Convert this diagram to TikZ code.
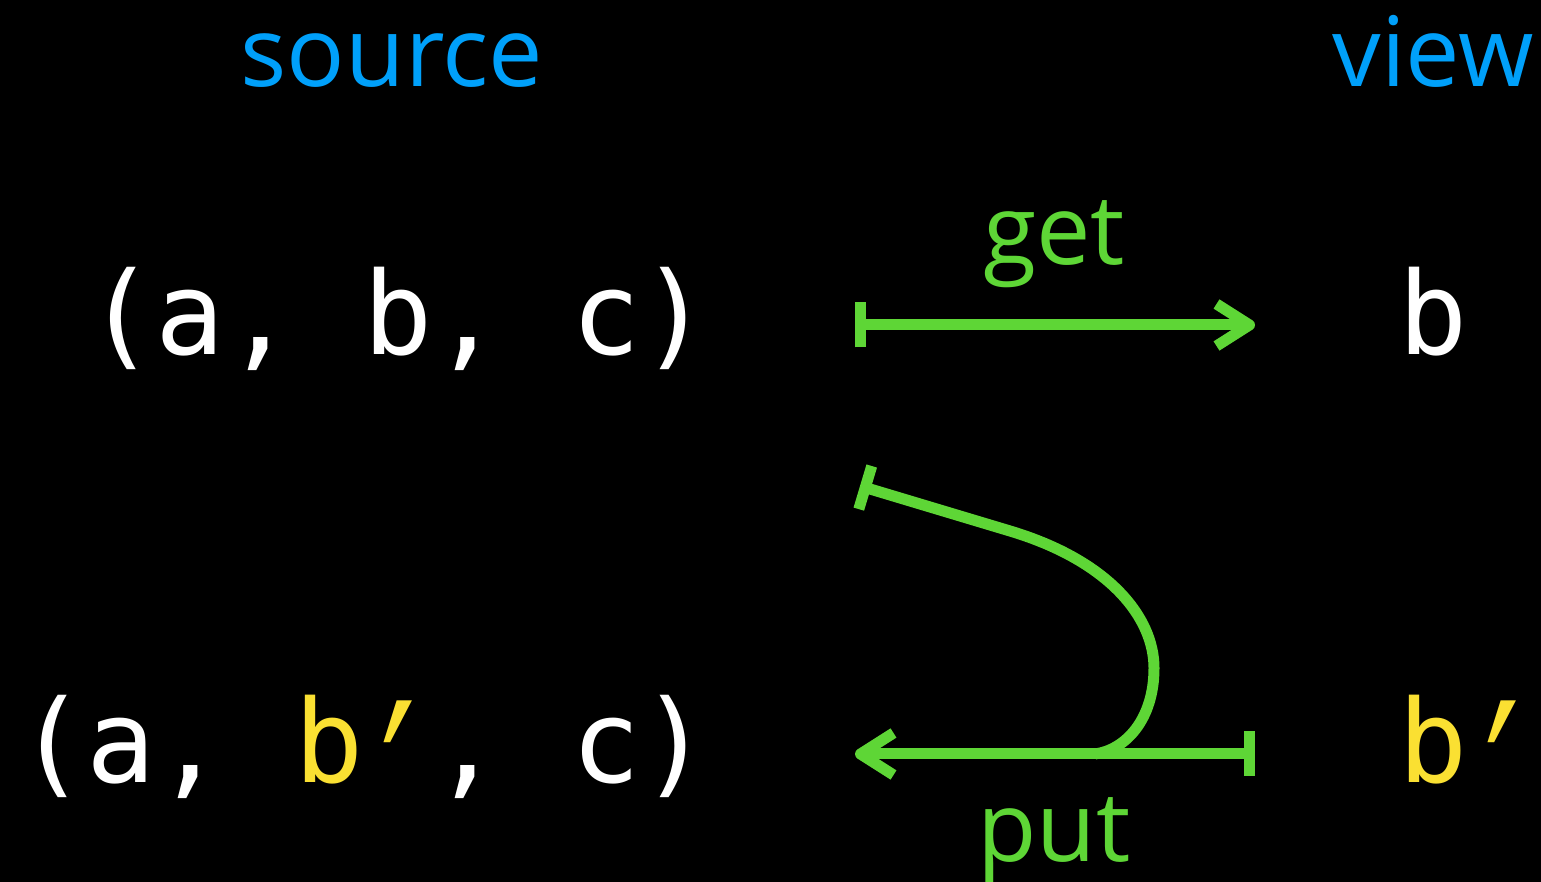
\documentclass[tikz,border=0pt]{standalone}
\usepackage{fontspec}
\usetikzlibrary{arrows.meta}
\newfontfamily\labelfont{Open Sans}
\newfontfamily\codefont{DejaVu Sans Mono}
\definecolor{lensblue}{RGB}{0,160,250}
\definecolor{lensgreen}{RGB}{94,214,54}
\definecolor{lensyellow}{RGB}{250,224,50}
% a tall prime that still fills exactly one monospace cell
\newcommand{\cellprime}{\makebox[\fontcharwd\font`a][c]{\smash{\raisebox{-0.74em}{\scalebox{1.35}[2]{′}}}}}

\begin{document}
\begin{tikzpicture}[x=1pt,y=1pt,
  heading/.style={text=lensblue, font=\labelfont\fontsize{97}{110}\selectfont, inner sep=0pt, anchor=base},
  term/.style={text=white, font=\codefont\fontsize{115}{130}\selectfont, inner sep=0pt},
  oplabel/.style={text=lensgreen, font=\labelfont\fontsize{97}{110}\selectfont, inner sep=0pt, anchor=base},
  lensline/.style={draw=lensgreen, line width=11pt},
  maparrow/.style={lensline, {Bar[width=45pt]}-{Straight Barb[length=33pt,width=42pt,line join=round]}},
  mapstart/.style={lensline, -{Bar[width=45pt]}}]

% canvas
\fill[black] (0,0) rectangle (1541,882);
\useasboundingbox (0,0) rectangle (1541,882);

% column headings
\node[heading] (source) at (392,795) {source};
\node[heading] (view) at (1433,795) {view};

% terms
\node[term, anchor=base east] (src) at (710,527) {(a, b, c)};
\node[term, anchor=base west] (vw) at (1398,527) {b};
\node[term, anchor=base east] (newsrc) at (710,99) {(a, \textcolor{lensyellow}{b\cellprime}, c)};
\node[term, anchor=base west, text=lensyellow] (newvw) at (1398,99) {b\cellprime};

% operation labels
\node[oplabel] (get) at (1054,617) {get};
\node[oplabel] (put) at (1054,20) {put};

% connector end points
\coordinate (getfrom) at (855,557);
\coordinate (getto) at (1255,557);
\coordinate (putfrom) at (1255,128);
\coordinate (putto) at (855,128);
\coordinate (join) at (1095,128);
\coordinate (turn) at (1154,214);
\coordinate (bend) at (1010,351);
\coordinate (srcin) at (860,396);

% get
\draw[maparrow] (getfrom) -- (getto);

% put: the source feeds in from above, joining the view's line
\draw[mapstart] (join) .. controls (1125,132) and (1154,162) .. (turn)
  .. controls (1154,264) and (1110,321) .. (bend) -- (srcin);
\draw[maparrow] (putfrom) -- (putto);
\end{tikzpicture}
\end{document}
